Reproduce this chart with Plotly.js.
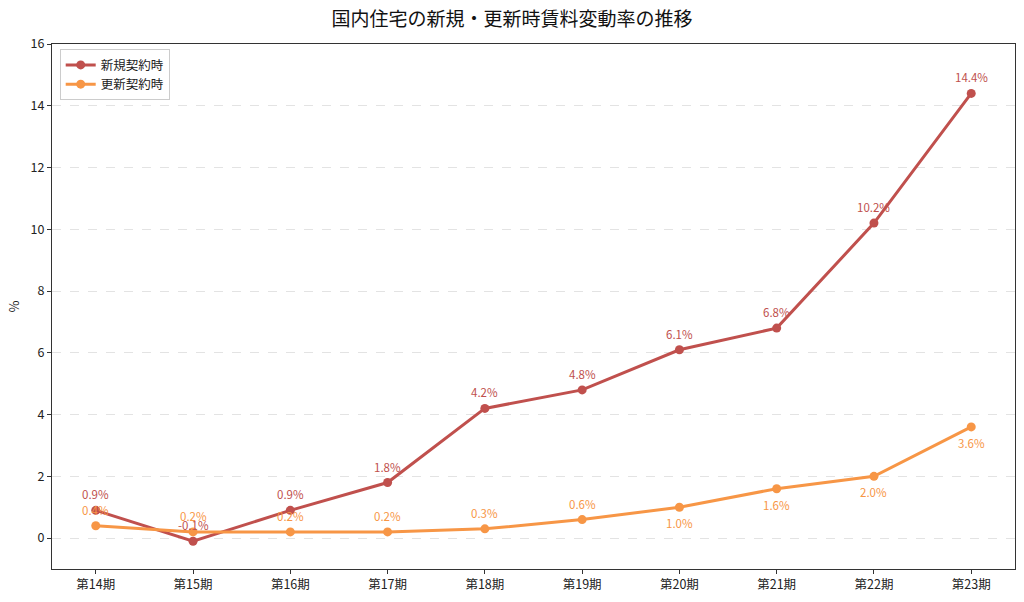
<!DOCTYPE html>
<html>
<head>
<meta charset="utf-8">
<script src="https://cdn.plot.ly/plotly-3.0.1.min.js"></script>
<style>body{margin:0;background:#fff}#chart{width:1024px;height:602px}</style>
</head>
<body>
<div id="chart"></div>
<script>
// 期ごとの賃料変動率 (%)
const periods = ['第14期','第15期','第16期','第17期','第18期','第19期','第20期','第21期','第22期','第23期'];
const newRate = [0.9, -0.1, 0.9, 1.8, 4.2, 4.8, 6.1, 6.8, 10.2, 14.4];
const renewRate = [0.4, 0.2, 0.2, 0.2, 0.3, 0.6, 1.0, 1.6, 2.0, 3.6];
// 更新のラベルを下に置く期
const renewBelow = [false, false, false, false, false, false, true, true, true, true];

const cNew = '#c0504d', cRenew = '#f79646';
const font = 'Noto Sans CJK JP, sans-serif';

let traces = [
  {x: periods, y: newRate, name: '新規契約時', type: 'scatter', mode: 'lines+markers',
   line: {color: cNew, width: 3}, marker: {color: cNew, size: 9}},
  {x: periods, y: renewRate, name: '更新契約時', type: 'scatter', mode: 'lines+markers',
   line: {color: cRenew, width: 3}, marker: {color: cRenew, size: 9}}
];

let annots = [];
newRate.forEach((v, i) => annots.push({
  x: periods[i], y: v, text: v.toFixed(1) + '%', showarrow: false, yshift: 16,
  font: {color: cNew, size: 11.5, family: font}
}));
renewRate.forEach((v, i) => annots.push({
  x: periods[i], y: v, text: v.toFixed(1) + '%', showarrow: false, yshift: renewBelow[i] ? -16 : 16,
  font: {color: cRenew, size: 11.5, family: font}
}));

let layout = {
  width: 1024, height: 602,
  margin: {l: 52, r: 9, t: 44, b: 33},
  paper_bgcolor: '#fff', plot_bgcolor: '#fff',
  font: {family: font, color: '#222', size: 12},
  title: {text: '国内住宅の新規・更新時賃料変動率の推移', font: {size: 19, family: font, color: '#111'}, x: 0.5, y: 0.968, yanchor: 'middle'},
  xaxis: {range: [-0.45, 9.45], showline: true, linecolor: '#333', linewidth: 1, mirror: true,
    ticks: 'outside', ticklen: 4, tickcolor: '#333', showgrid: false, zeroline: false,
    tickfont: {size: 12.5}},
  yaxis: {range: [-1, 16], dtick: 2, showline: true, linecolor: '#333', linewidth: 1, mirror: true,
    ticks: 'outside', ticklen: 4, tickcolor: '#333', zeroline: false,
    showgrid: true, gridcolor: '#e3e3e3', griddash: 'dash', gridwidth: 1,
    title: {text: '%', font: {size: 13}, standoff: 8}, tickfont: {size: 12.5}},
  legend: {x: 0.008, y: 0.99, xanchor: 'left', yanchor: 'top', bordercolor: '#ccc', borderwidth: 1,
    bgcolor: 'rgba(255,255,255,0.9)', font: {size: 12.5}},
  showlegend: true,
  annotations: annots
};

Plotly.newPlot('chart', traces, layout, {displayModeBar: false});
</script>
</body>
</html>
